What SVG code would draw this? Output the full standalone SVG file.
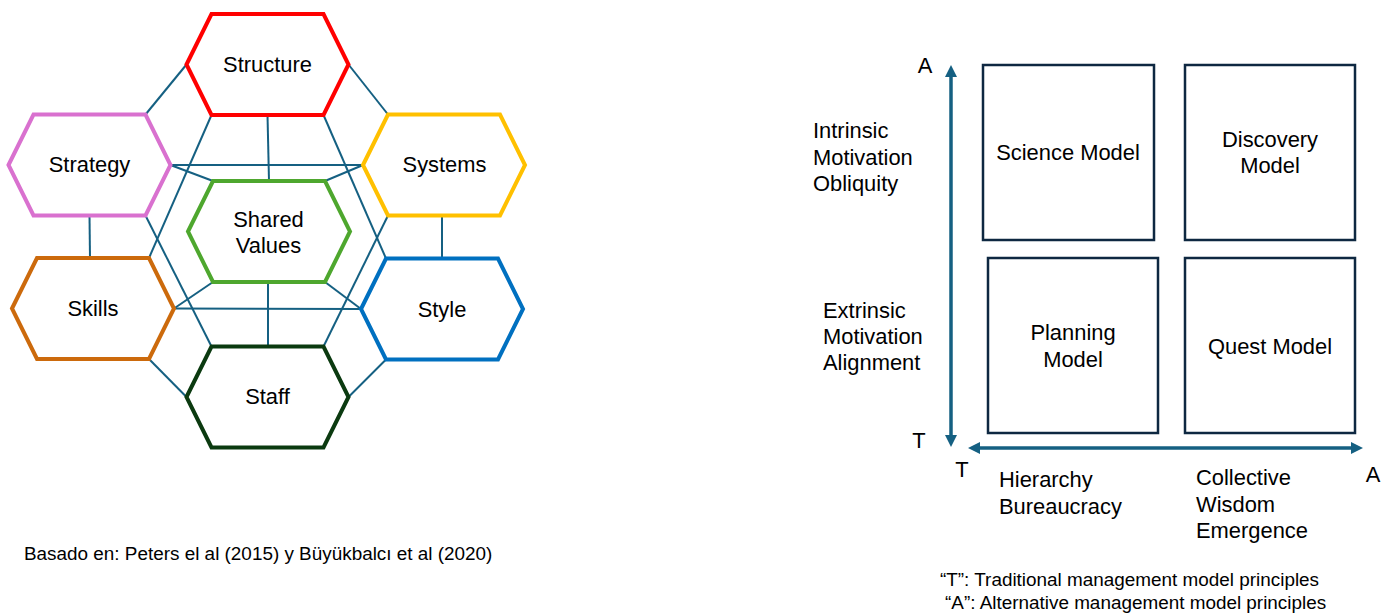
<svg xmlns="http://www.w3.org/2000/svg" width="1396" height="613" viewBox="0 0 1396 613">
  <style>
    text { font-family: "Liberation Sans", Arial, sans-serif; fill: #000; }
    .lbl { font-size: 21.9px; }
    .mid { text-anchor: middle; }
    .note { font-size: 18.9px; }
    .hex { fill: #fff; stroke-width: 4; stroke-linejoin: miter; }
    .conn line { stroke: #156082; stroke-width: 2; }
    .box { fill: #fff; stroke: #0E2841; stroke-width: 2.5; }
    .axis { stroke: #156082; stroke-width: 3.5; marker-start: url(#ah); marker-end: url(#ah); }
  </style>
  <defs>
    <marker id="ah" markerUnits="userSpaceOnUse" markerWidth="14" markerHeight="14" refX="0" refY="6" orient="auto-start-reverse" viewBox="0 0 14 14">
      <path d="M0,0 L12,6 L0,12 z" fill="#156082"/>
    </marker>
  </defs>
  <rect width="1396" height="613" fill="#fff"/>

  <!-- connectors of the 7S model -->
  <g id="connectors" class="conn">
    <line x1="186.5" y1="64.5" x2="145.5" y2="114.5"/>
    <line x1="348.5" y1="64.5" x2="388" y2="114.5"/>
    <line x1="211.5" y1="115" x2="149" y2="258"/>
    <line x1="267.5" y1="115" x2="269" y2="181"/>
    <line x1="323.5" y1="115" x2="386" y2="258.5"/>
    <line x1="170.5" y1="165" x2="363" y2="165"/>
    <line x1="170.5" y1="165" x2="213" y2="181"/>
    <line x1="363" y1="165" x2="325" y2="181"/>
    <line x1="89.5" y1="215.5" x2="90" y2="258"/>
    <line x1="442" y1="215.5" x2="442" y2="258.5"/>
    <line x1="145.5" y1="215.5" x2="211.5" y2="346.5"/>
    <line x1="388" y1="215.5" x2="323.5" y2="346.5"/>
    <line x1="213" y1="282" x2="174" y2="308.5"/>
    <line x1="325" y1="282" x2="361" y2="309"/>
    <line x1="174" y1="308.5" x2="361" y2="309"/>
    <line x1="268" y1="282" x2="268" y2="346.5"/>
    <line x1="149" y1="359" x2="186.5" y2="397"/>
    <line x1="386" y1="359.5" x2="348.5" y2="397"/>
  </g>

  <g id="structure">
    <polygon class="hex" stroke="#FF0000" points="186.5,64.5 211.5,14 323.5,14 348.5,64.5 323.5,115 211.5,115"/>
    <text class="lbl mid" x="267.5" y="72">Structure</text>
  </g>
  <g id="strategy">
    <polygon class="hex" stroke="#D971CF" points="8.5,165 33.5,114.5 145.5,114.5 170.5,165 145.5,215.5 33.5,215.5"/>
    <text class="lbl mid" x="89.5" y="172">Strategy</text>
  </g>
  <g id="systems">
    <polygon class="hex" stroke="#FFC000" points="363,165 388,114.5 500,114.5 525,165 500,215.5 388,215.5"/>
    <text class="lbl mid" x="444.5" y="172">Systems</text>
  </g>
  <g id="shared-values">
    <polygon class="hex" stroke="#4EA72E" points="188,231.5 213,181 325,181 350,231.5 325,282 213,282"/>
    <text class="lbl mid" x="268.5" y="226.5">Shared</text>
    <text class="lbl mid" x="268.5" y="253">Values</text>
  </g>
  <g id="skills">
    <polygon class="hex" stroke="#CC6A0C" points="12,308.5 37,258 149,258 174,308.5 149,359 37,359"/>
    <text class="lbl mid" x="93" y="316">Skills</text>
  </g>
  <g id="style">
    <polygon class="hex" stroke="#0070C0" points="361,309 386,258.5 498,258.5 523,309 498,359.5 386,359.5"/>
    <text class="lbl mid" x="442" y="316.5">Style</text>
  </g>
  <g id="staff">
    <polygon class="hex" stroke="#0B3A10" points="186.5,397 211.5,346.5 323.5,346.5 348.5,397 323.5,447.5 211.5,447.5"/>
    <text class="lbl mid" x="267.5" y="404">Staff</text>
  </g>

  <g id="source-note">
    <text class="note" x="24" y="560">Basado en: Peters el al (2015) y Büyükbalcı et al (2020)</text>
  </g>

  <!-- quadrant model -->
  <g id="axes">
    <line class="axis" x1="951" y1="77" x2="951" y2="435"/>
    <line class="axis" x1="980" y1="448" x2="1351" y2="448"/>
  </g>

  <g id="science-model">
    <rect class="box" x="983" y="65" width="171" height="175"/>
    <text class="lbl mid" x="1068" y="159.5">Science Model</text>
  </g>
  <g id="discovery-model">
    <rect class="box" x="1185" y="65" width="170" height="175"/>
    <text class="lbl mid" x="1270" y="146.5">Discovery</text>
    <text class="lbl mid" x="1270" y="173">Model</text>
  </g>
  <g id="planning-model">
    <rect class="box" x="988" y="258" width="170" height="175"/>
    <text class="lbl mid" x="1073" y="340">Planning</text>
    <text class="lbl mid" x="1073" y="366.5">Model</text>
  </g>
  <g id="quest-model">
    <rect class="box" x="1185" y="258" width="170" height="175"/>
    <text class="lbl mid" x="1270" y="353.5">Quest Model</text>
  </g>

  <g id="axis-labels">
    <text class="lbl mid" x="925" y="73">A</text>
    <text class="lbl mid" x="919" y="448">T</text>
    <text class="lbl mid" x="962" y="477">T</text>
    <text class="lbl mid" x="1373" y="482">A</text>
    <text class="lbl" x="813" y="138">Intrinsic</text>
    <text class="lbl" x="813" y="164.5">Motivation</text>
    <text class="lbl" x="813" y="190.5">Obliquity</text>
    <text class="lbl" x="823" y="317.5">Extrinsic</text>
    <text class="lbl" x="823" y="344">Motivation</text>
    <text class="lbl" x="823" y="370">Alignment</text>
    <text class="lbl" x="999" y="487">Hierarchy</text>
    <text class="lbl" x="999" y="513.5">Bureaucracy</text>
    <text class="lbl" x="1196" y="485">Collective</text>
    <text class="lbl" x="1196" y="511.5">Wisdom</text>
    <text class="lbl" x="1196" y="537.5">Emergence</text>
  </g>

  <g id="legend">
    <text class="note" x="940" y="586">“T”: Traditional management model principles</text>
    <text class="note" x="945" y="608.5">“A”: Alternative management model principles</text>
  </g>
</svg>
